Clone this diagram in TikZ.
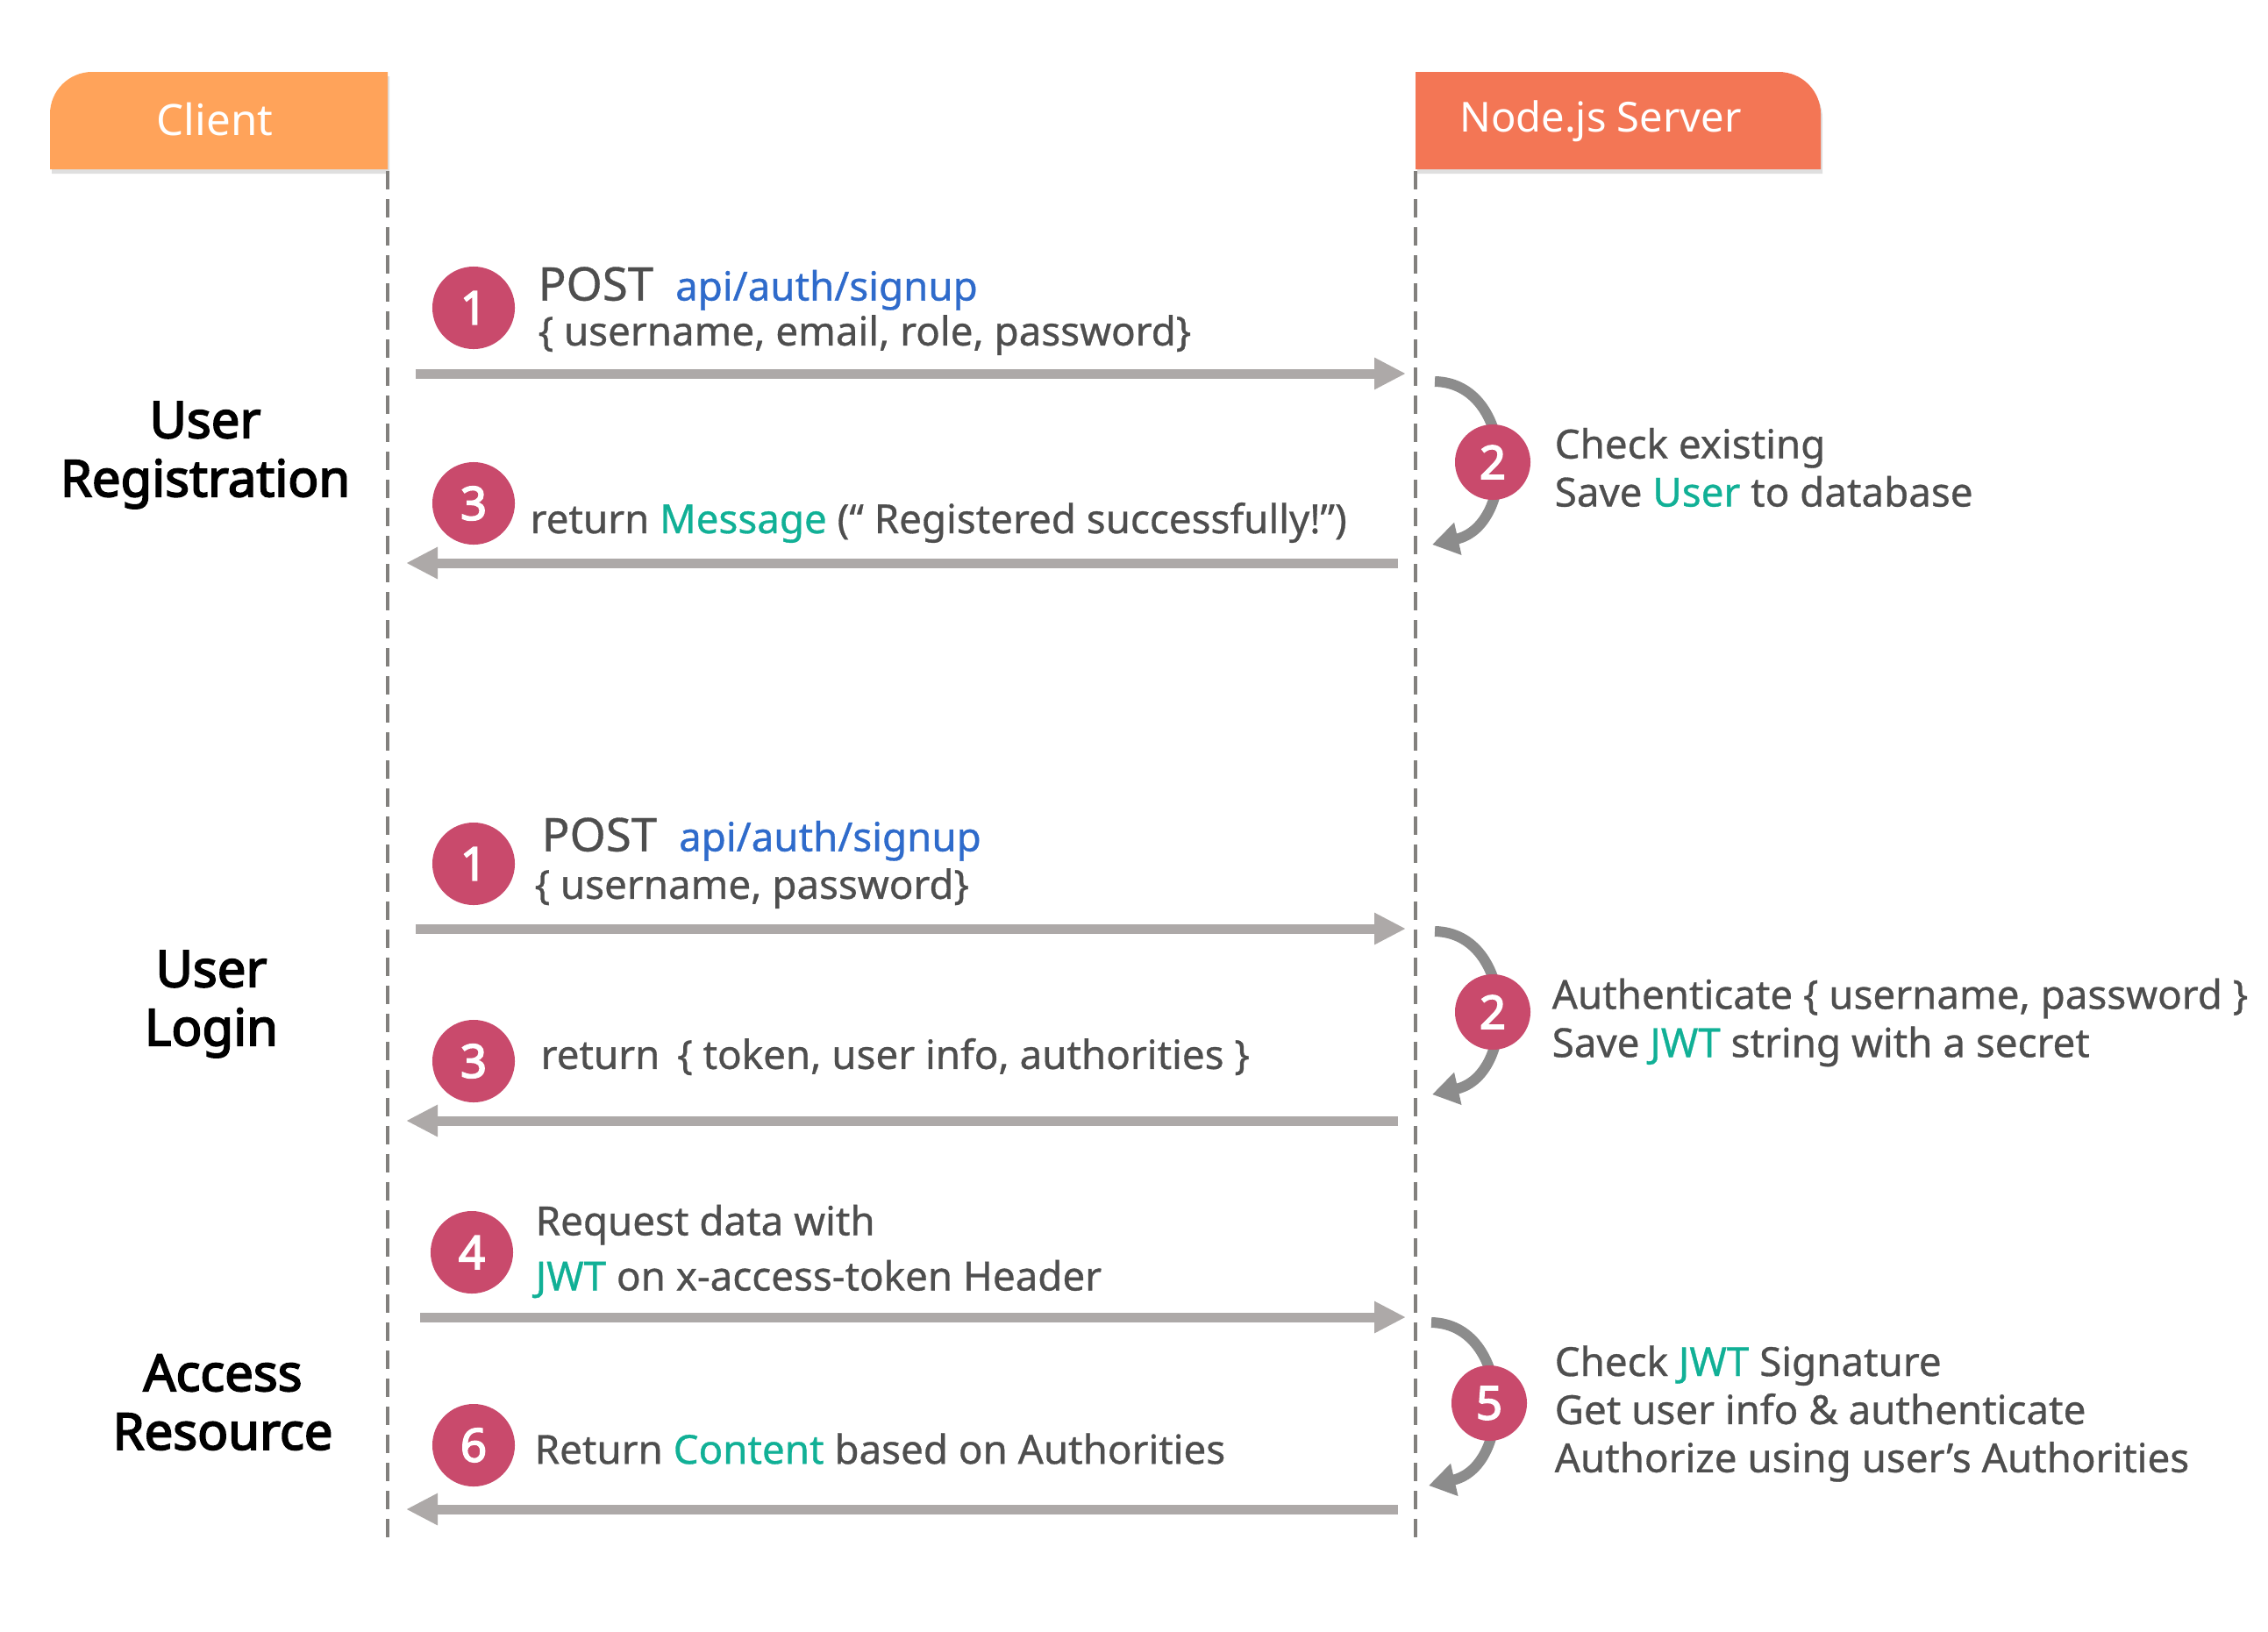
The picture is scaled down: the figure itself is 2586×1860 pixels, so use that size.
\documentclass[tikz,border=0pt]{standalone}
\usepackage{fontspec}
\setmainfont{Noto Sans}[AutoFakeBold=3]
\newfontfamily\msgfont{Noto Sans}[FakeBold=0.7]
\usepackage{tikz}
\usetikzlibrary{arrows.meta, shadows}

\definecolor{clientc}{RGB}{255,163,90}
\definecolor{serverc}{RGB}{243,118,85}
\definecolor{numc}{RGB}{201,74,108}
\definecolor{arrowc}{RGB}{173,169,168}
\definecolor{turnc}{RGB}{140,140,140}
\definecolor{linec}{RGB}{130,128,125}
\definecolor{textc}{RGB}{78,78,78}
\definecolor{urlc}{RGB}{47,107,203}
\definecolor{keyc}{RGB}{17,176,150}

\begin{document}
\begin{tikzpicture}[x=0.01cm, y=-0.01cm]
\tikzstyle{head} = [text=white, font=\fontsize{14}{17}\selectfont, inner sep=0]
\tikzstyle{num} = [circle, fill=numc, text=white, font=\bfseries\fontsize{15}{18}\selectfont, minimum size=0.94cm, inner sep=0]
\tikzstyle{numr} = [num, minimum size=0.86cm]
\tikzstyle{msg} = [anchor=west, inner sep=0, text=textc, font=\msgfont\fontsize{13}{15.6}\selectfont, align=left]
\tikzstyle{phase} = [font=\bfseries\fontsize{16.5}{19}\selectfont, align=center, inner sep=0]
\tikzstyle{arrow} = [arrowc, line width=0.11cm, -{Triangle[length=0.36cm, width=0.34cm]}]
\tikzstyle{turn} = [turnc, line width=0.12cm, -{Triangle[length=0.3cm, width=0.36cm]}]
\tikzstyle{life} = [linec, line width=0.04cm, dash pattern=on 0.21cm off 0.11cm]

\useasboundingbox (0,0) rectangle (2586,1860);

\fill[clientc, drop shadow={opacity=0.25, shadow xshift=0.02cm, shadow yshift=-0.05cm}] (57,193) -- (57,130) arc[start angle=180, end angle=270, radius=48] -- (442,82) -- (442,193) -- cycle;
\fill[serverc, drop shadow={opacity=0.25, shadow xshift=0.02cm, shadow yshift=-0.05cm}] (1614,193) -- (1614,82) -- (2028,82) arc[start angle=270, end angle=360, radius=48] -- (2076,193) -- cycle;
\node (client) [head] at (245,136) {Client};
\node (server) [head, font=\fontsize{13.4}{16}\selectfont] at (1825,138) {Node.js Server};

\coordinate (cl0) at (442,195);
\coordinate (cl1) at (442,1754);
\coordinate (sv0) at (1614,195);
\coordinate (sv1) at (1614,1754);
\draw [life] (cl0) -- (cl1);
\draw [life] (sv0) -- (sv1);

\node (reg) [phase] at (234,519) {User\\Registration};
\node (login) [phase] at (241,1145) {User\\Login};
\node (access) [phase] at (254,1599) {Access\\Resource};

\coordinate (req1a) at (474,426);
\coordinate (req1b) at (1603,426);
\coordinate (res1a) at (1594,642);
\coordinate (res1b) at (463,642);
\coordinate (req2a) at (474,1059);
\coordinate (req2b) at (1603,1059);
\coordinate (res2a) at (1594,1278);
\coordinate (res2b) at (463,1278);
\coordinate (req3a) at (479,1502);
\coordinate (req3b) at (1603,1502);
\coordinate (res3a) at (1594,1721);
\coordinate (res3b) at (463,1721);
\draw [arrow] (req1a) -- (req1b);
\draw [arrow] (res1a) -- (res1b);
\draw [arrow] (req2a) -- (req2b);
\draw [arrow] (res2a) -- (res2b);
\draw [arrow] (req3a) -- (req3b);
\draw [arrow] (res3a) -- (res3b);

\node (n1) [num] at (540,351) {1};
\node (n3) [num] at (540,574) {3};
\node (m1) [num] at (540,985) {1};
\node (m3) [num] at (540,1210) {3};
\node (k4) [num] at (538,1428) {4};
\node (k6) [num] at (540,1648) {6};

\coordinate (s2) at (1702,527);
\coordinate (t2) at (1702,1154);
\coordinate (u5) at (1698,1600);
\draw [turn] ([shift={(-66,-92)}]s2) .. controls +(92,2) and +(97,-22) .. ([shift={(-69,94)}]s2);
\draw [turn] ([shift={(-66,-92)}]t2) .. controls +(92,2) and +(97,-22) .. ([shift={(-69,94)}]t2);
\draw [turn] ([shift={(-66,-92)}]u5) .. controls +(92,2) and +(97,-22) .. ([shift={(-69,94)}]u5);
\node (n2) [numr] at (s2) {2};
\node (m2) [numr] at (t2) {2};
\node (k5) [numr] at (u5) {5};

\node (post1) [msg] at (613,329) {{\fontsize{15}{18}\selectfont POST}\hspace{0.25cm}\textcolor{urlc}{api/auth/signup}};
\node (body1) [msg] at (613,382) {\{ username, email, role, password\}};
\node (ret1) [msg] at (604,596) {return \textcolor{keyc}{Message} (“ Registered successfully!”)};
\node (chk1) [msg] at (1772,533) {Check existing\\Save \textcolor{keyc}{User} to database};

\node (post2) [msg] at (617,957) {{\fontsize{15}{18}\selectfont POST}\hspace{0.25cm}\textcolor{urlc}{api/auth/signup}};
\node (body2) [msg] at (609,1013) {\{ username, password\}};
\node (ret2) [msg] at (616,1205) {return\hspace{0.2cm}\{ token, user info, authorities \}};
\node (auth2) [msg] at (1769,1166) {Authenticate \{ username, password \}\\Save \textcolor{keyc}{JWT} string with a secret};

\node (req3) [msg, font=\msgfont\fontsize{13}{17.9}\selectfont] at (610,1427) {Request data with\\\textcolor{keyc}{JWT} on x-access-token Header};
\node (ret3) [msg] at (609,1652) {Return \textcolor{keyc}{Content} based on Authorities};
\node (chk3) [msg] at (1772,1612) {Check \textcolor{keyc}{JWT} Signature\\Get user info \& authenticate\\Authorize using user’s Authorities};
\end{tikzpicture}
\end{document}
